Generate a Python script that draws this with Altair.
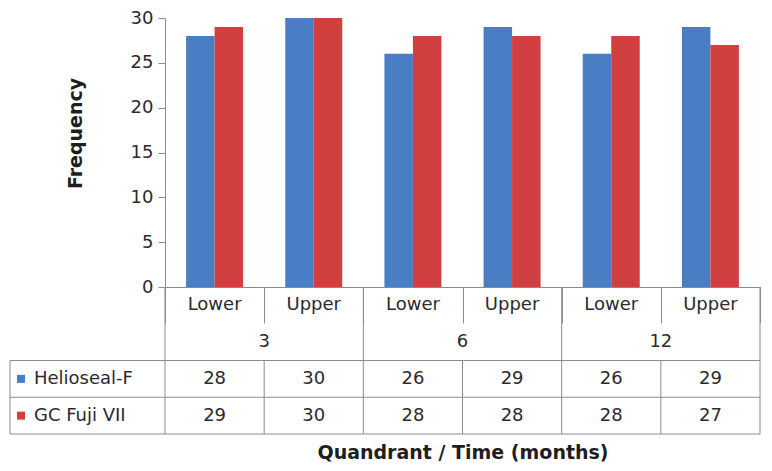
import altair as alt
import pandas as pd

# ---- data ----
times = ["3", "6", "12"]
quadrants = ["Lower", "Upper"]
series = ["Helioseal-F", "GC Fuji VII"]
helioseal = [28, 30, 26, 29, 26, 29]
gcfuji = [29, 30, 28, 28, 28, 27]
colors = ["#4A7EC4", "#D23F3F"]

cats = [f"{t}|{q}" for t in times for q in quadrants]
rows = ["quad", "time"] + series

FONT = "DejaVu Sans"
LINE = "#8c8c8c"
TXT = "#2b2b2b"
W, H = 595, 269
FS = 18

recs = []
for s, vals in zip(series, [helioseal, gcfuji]):
    for c, v in zip(cats, vals):
        t, q = c.split("|")
        recs.append({"cat": c, "time": t, "quad": q, "series": s, "value": v})
df = pd.DataFrame(recs)

quad_df = pd.DataFrame({"cat": cats, "row": "quad", "label": [c.split("|")[1] for c in cats]})
val_df = pd.DataFrame({"cat": df["cat"], "row": df["series"], "label": df["value"].astype(str)})
text_df = pd.concat([quad_df, val_df], ignore_index=True)
time_df = pd.DataFrame({"cat": [f"{t}|Lower" for t in times], "row": "time", "label": times})

group_start = pd.DataFrame({"cat": [f"{t}|Lower" for t in times], "r1": "quad", "r2": series[-1]})
inner_start = pd.DataFrame({"cat": [f"{t}|Upper" for t in times], "r1": series[0], "r2": series[-1]})
right_edge = pd.DataFrame({"cat": [cats[-1]], "r1": ["quad"], "r2": [series[-1]]})
hline_top = pd.DataFrame({"row": series})
hline_bottom = pd.DataFrame({"row": [series[-1]]})
legend_df = pd.DataFrame({"series": series, "r1": series[0], "r2": series[-1]})

row_scale = alt.Scale(domain=rows, range=[H, 416], paddingInner=0, paddingOuter=0)
x_scale = alt.Scale(domain=cats, paddingInner=0, paddingOuter=0)

bars = alt.Chart(df).mark_bar().encode(
    x=alt.X("cat:N", sort=cats, scale=x_scale,
            axis=alt.Axis(labels=False, ticks=True, tickBand="extent", tickSize=36,
                          tickColor=LINE, domainColor=LINE, grid=False,
                          title="Quandrant / Time (months)", titleFont=FONT,
                          titleFontSize=19, titleFontWeight="bold", titleColor="#1e1e1e",
                          titleY=165, titleBaseline="middle")),
    xOffset=alt.XOffset("series:N", sort=series,
                        scale=alt.Scale(domain=series, paddingInner=0, paddingOuter=0.74)),
    y=alt.Y("value:Q", scale=alt.Scale(domain=[0, 30], nice=False),
            axis=alt.Axis(values=[0, 5, 10, 15, 20, 25, 30], grid=False, tickSize=7,
                          tickColor=LINE, domainColor=LINE, labelFont=FONT,
                          labelFontSize=FS, labelColor=TXT, labelPadding=5,
                          title="Frequency", titleFont=FONT, titleFontSize=19,
                          titleFontWeight="bold", titleColor="#1e1e1e",
                          titleX=-90, titleY=115, titleAngle=270,
                          titleAlign="center", titleBaseline="middle")),
    color=alt.Color("series:N", sort=series,
                    scale=alt.Scale(domain=series, range=colors), legend=None),
)

texts = alt.Chart(text_df).mark_text(font=FONT, fontSize=FS, color=TXT).encode(
    x=alt.X("cat:N", scale=x_scale),
    y=alt.Y("row:N", scale=row_scale, axis=None),
    text="label:N",
)
time_text = alt.Chart(time_df).mark_text(font=FONT, fontSize=FS, color=TXT).encode(
    x=alt.X("cat:N", scale=x_scale, bandPosition=1),
    y=alt.Y("row:N", scale=row_scale, axis=None),
    text="label:N",
)

def vrules(data, bp):
    return alt.Chart(data).mark_rule(color=LINE, strokeWidth=1).encode(
        x=alt.X("cat:N", scale=x_scale, bandPosition=bp),
        y=alt.Y("r1:N", scale=row_scale, axis=None, bandPosition=0),
        y2=alt.Y2("r2:N", bandPosition=1),
    )

def hrules(data, bp):
    return alt.Chart(data).mark_rule(color=LINE, strokeWidth=1).encode(
        y=alt.Y("row:N", scale=row_scale, axis=None, bandPosition=bp),
        x=alt.value(-155),
        x2=alt.value(W),
    )

left_edge = alt.Chart(legend_df.head(1)).mark_rule(color=LINE, strokeWidth=1).encode(
    x=alt.value(-155),
    y=alt.Y("r1:N", scale=row_scale, axis=None, bandPosition=0),
    y2=alt.Y2("r2:N", bandPosition=1),
)

legend_sq = alt.Chart(legend_df).mark_square(size=64, opacity=1).encode(
    x=alt.value(-144),
    y=alt.Y("series:N", scale=row_scale, axis=None),
    color=alt.Color("series:N", sort=series, scale=alt.Scale(domain=series, range=colors), legend=None),
)
legend_txt = alt.Chart(legend_df).mark_text(font=FONT, fontSize=FS, color=TXT, align="left").encode(
    x=alt.value(-131),
    y=alt.Y("series:N", scale=row_scale, axis=None),
    text="series:N",
)

chart = alt.layer(
    bars, texts, time_text,
    vrules(group_start, 0), vrules(inner_start, 0), vrules(right_edge, 1),
    hrules(hline_top, 0), hrules(hline_bottom, 1), left_edge,
    legend_sq, legend_txt,
).resolve_scale(y="independent").properties(
    width=W, height=H,
    autosize=alt.AutoSizeParams(type="none"),
    padding={"left": 157, "top": 10, "right": 4, "bottom": 175},
).configure_view(stroke=None)

chart.save("out.html", embed_options={"renderer": "svg", "actions": False})
